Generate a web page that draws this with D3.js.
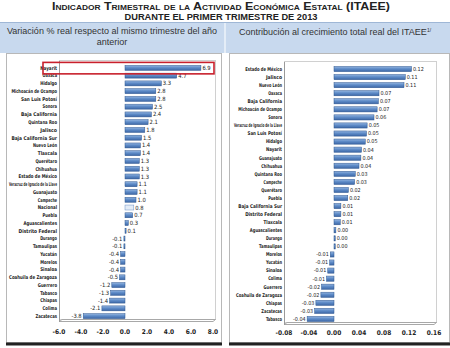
<!DOCTYPE html>
<html><head><meta charset="utf-8">
<script src="https://cdn.jsdelivr.net/npm/d3@7"></script>
<style>
html,body{margin:0;padding:0;background:#fff;}
svg{display:block;font-family:"Liberation Sans",Arial,sans-serif;}
</style></head>
<body><svg id="c" width="450" height="348"></svg>
<script>
// ---- Data ----
const leftStates = ["Nayarit","Oaxaca","Hidalgo","Michoacán de Ocampo","San Luis Potosí","Sonora","Baja California","Quintana Roo","Jalisco","Baja California Sur","Nuevo León","Tlaxcala","Querétaro","Chihuahua","Estado de México","Veracruz de Ignacio de la Llave","Guanajuato","Campeche","Nacional","Puebla","Aguascalientes","Distrito Federal","Durango","Tamaulipas","Yucatán","Morelos","Sinaloa","Coahuila de Zaragoza","Guerrero","Tabasco","Chiapas","Colima","Zacatecas"];
const leftValues = [6.9,4.7,3.3,2.8,2.8,2.5,2.4,2.1,1.8,1.5,1.4,1.4,1.3,1.3,1.3,1.1,1.1,1.0,0.8,0.7,0.3,0.1,-0.1,-0.1,-0.4,-0.4,-0.4,-0.5,-1.2,-1.3,-1.4,-2.1,-3.8];
const leftTicks = [-6,-4,-2,0,2,4,6,8];

const rightStates = ["Estado de México","Jalisco","Nuevo León","Oaxaca","Baja California","Michoacán de Ocampo","Sonora","Veracruz de Ignacio de la Llave","San Luis Potosí","Hidalgo","Nayarit","Guanajuato","Chihuahua","Quintana Roo","Campeche","Querétaro","Puebla","Baja California Sur","Distrito Federal","Tlaxcala","Aguascalientes","Durango","Tamaulipas","Morelos","Yucatán","Sinaloa","Colima","Guerrero","Coahuila de Zaragoza","Chiapas","Zacatecas","Tabasco"];
const rightValues = [0.124,0.114,0.112,0.072,0.071,0.069,0.064,0.053,0.052,0.050,0.044,0.043,0.040,0.034,0.033,0.023,0.022,0.011,0.011,0.010,0.003,0.002,0.002,-0.006,-0.007,-0.010,-0.012,-0.020,-0.021,-0.029,-0.031,-0.043];
const rightTicks = [-0.08,-0.04,0,0.04,0.08,0.12,0.16];

const svg = d3.select("#c");
const defs = svg.append("defs");
const g1 = defs.append("linearGradient").attr("id","barg").attr("x1",0).attr("y1",0).attr("x2",0).attr("y2",1);
g1.append("stop").attr("offset","0%").attr("stop-color","#94b5e0");
g1.append("stop").attr("offset","45%").attr("stop-color","#5f8cc8");
g1.append("stop").attr("offset","100%").attr("stop-color","#3d67a6");

const fmtH = f => v => d3.format(f)(v).replace("\u2212","-");

// ---- Title ----
svg.append("text").attr("x",221).attr("y",10).attr("text-anchor","middle")
  .style("font-variant","small-caps").attr("font-weight","bold").attr("font-size",10.4).attr("fill","#222")
  .attr("textLength",338).attr("lengthAdjust","spacingAndGlyphs")
  .text("Indicador Trimestral de la Actividad Económica Estatal (ITAEE)");
svg.append("text").attr("x",221).attr("y",20).attr("text-anchor","middle")
  .attr("font-weight","bold").attr("font-size",8.4).attr("fill","#222")
  .attr("textLength",193).attr("lengthAdjust","spacingAndGlyphs")
  .text("DURANTE EL PRIMER TRIMESTRE DE 2013");

// ---- Header band ----
svg.append("rect").attr("x",0).attr("y",22).attr("width",450).attr("height",31).attr("fill","#c8d9ee");
svg.append("line").attr("x1",0).attr("x2",450).attr("y1",22.5).attr("y2",22.5).attr("stroke","#9fb7d6");
svg.append("line").attr("x1",225).attr("x2",225).attr("y1",23).attr("y2",53).attr("stroke","#eef3fa").attr("stroke-width",1.5);
svg.append("text").attr("x",112).attr("y",34).attr("text-anchor","middle").attr("font-size",9).attr("fill","#333")
  .text("Variación % real respecto al mismo trimestre del año");
svg.append("text").attr("x",112).attr("y",45).attr("text-anchor","middle").attr("font-size",9).attr("fill","#333")
  .text("anterior");
const ht = svg.append("text").attr("x",335).attr("y",35).attr("text-anchor","middle").attr("font-size",9).attr("fill","#333");
ht.append("tspan").text("Contribución al crecimiento total real del ITAEE");
ht.append("tspan").attr("font-size",5).attr("dy",-3.5).text("1/");

// ---- Panels ----
function panel(x0,x1){
  svg.append("rect").attr("x",x0+0.5).attr("y",53.5).attr("width",x1-x0).attr("height",289).attr("fill","#fff").attr("stroke","#b8b8b8");
  svg.append("line").attr("x1",x0).attr("x2",x1+1).attr("y1",344).attr("y2",344).attr("stroke","#222").attr("stroke-width",3);
}
panel(6,221);
panel(229,449);

function chart(cfg){
  const x = d3.scaleLinear().domain(cfg.domain).range(cfg.xr);
  const y = d3.scaleBand().domain(cfg.cats).range(cfg.yr).paddingInner(0.36).paddingOuter(0.18);
  const g = svg.append("g");
  const [xa,xb] = cfg.xr, [ya,yb] = cfg.yr;
  g.append("rect").attr("x",xa+0.5).attr("y",ya-3.5).attr("width",xb-xa+2).attr("height",yb-ya+3).attr("fill","none").attr("stroke","#d0d0d0");
  g.append("path").attr("d",`M${xa+0.5},${yb+1.5} L${xa+3},${yb-0.5} L${xb+2.5},${yb-0.5} M${xa+0.5},${yb+1.5} L${xb},${yb+1.5} L${xb+2.5},${yb-0.5}`)
    .attr("fill","none").attr("stroke","#a8a8a8");
  g.append("line").attr("x1",xa+0.5).attr("x2",xa+0.5).attr("y1",ya-3).attr("y2",yb+2).attr("stroke","#9a9a9a");
  const bh = y.bandwidth();
  const vf = fmtH(cfg.fmt), tf = fmtH(cfg.tfmt);
  cfg.cats.forEach((c,i)=>{
    const v = cfg.vals[i];
    const x0 = x(Math.min(0,v)), w = Math.abs(x(v)-x(0));
    const nat = c==="Nacional";
    g.append("rect").attr("x",x0).attr("y",y(c)).attr("width",Math.max(w,1)).attr("height",bh)
      .attr("fill",nat?"#e3ecf7":"url(#barg)").attr("stroke",nat?"#6f93c6":"#2f5790").attr("stroke-width",0.5);
    g.append("text").attr("x",xa-2).attr("y",y(c)+bh/2).attr("dy","0.35em").attr("text-anchor","end")
      .attr("font-size",cfg.catFont).attr("font-family","'Liberation Sans Narrow','DejaVu Sans Condensed',sans-serif")
      .attr("font-weight","bold").attr("fill","#222").attr("textLength",Math.min(c.length*cfg.charW, cfg.maxLab)).attr("lengthAdjust","spacingAndGlyphs").text(c);
    g.append("text").attr("x",v>=0?x(v)+1.5:x(v)-1.5).attr("y",y(c)+bh/2).attr("dy","0.35em")
      .attr("text-anchor",v>=0?"start":"end").attr("font-size",cfg.valFont)
      .attr("font-family","'Liberation Sans Narrow','DejaVu Sans Condensed',sans-serif").attr("fill","#222").text(vf(v));
  });
  cfg.ticks.forEach(t=>{
    g.append("text").attr("x",x(t)).attr("y",cfg.tickY).attr("text-anchor","middle").attr("font-size",6.5)
      .attr("font-family","'Liberation Sans Narrow','DejaVu Sans Condensed',sans-serif").attr("font-weight","bold").attr("fill","#222")
      .text(tf(t));
  });
  return {x,y};
}

const L = chart({cats:leftStates, vals:leftValues, domain:[-6,8], xr:[59,213], yr:[64,320], ticks:leftTicks,
  fmt:".1f", tfmt:".1f", catFont:5.2, valFont:5.8, charW:2.4, maxLab:48, tickY:334});
chart({cats:rightStates, vals:rightValues, domain:[-0.08,0.16], xr:[284,434], yr:[65,323], ticks:rightTicks,
  fmt:".2f", tfmt:".2f", catFont:5.2, valFont:5.4, charW:2.3, maxLab:48, tickY:335});

svg.append("rect").attr("x",43).attr("y",L.y("Nayarit")-3).attr("width",171).attr("height",L.y.bandwidth()+6.5)
  .attr("fill","none").attr("stroke","#c8202c").attr("stroke-width",1.6);
</script></body></html>
